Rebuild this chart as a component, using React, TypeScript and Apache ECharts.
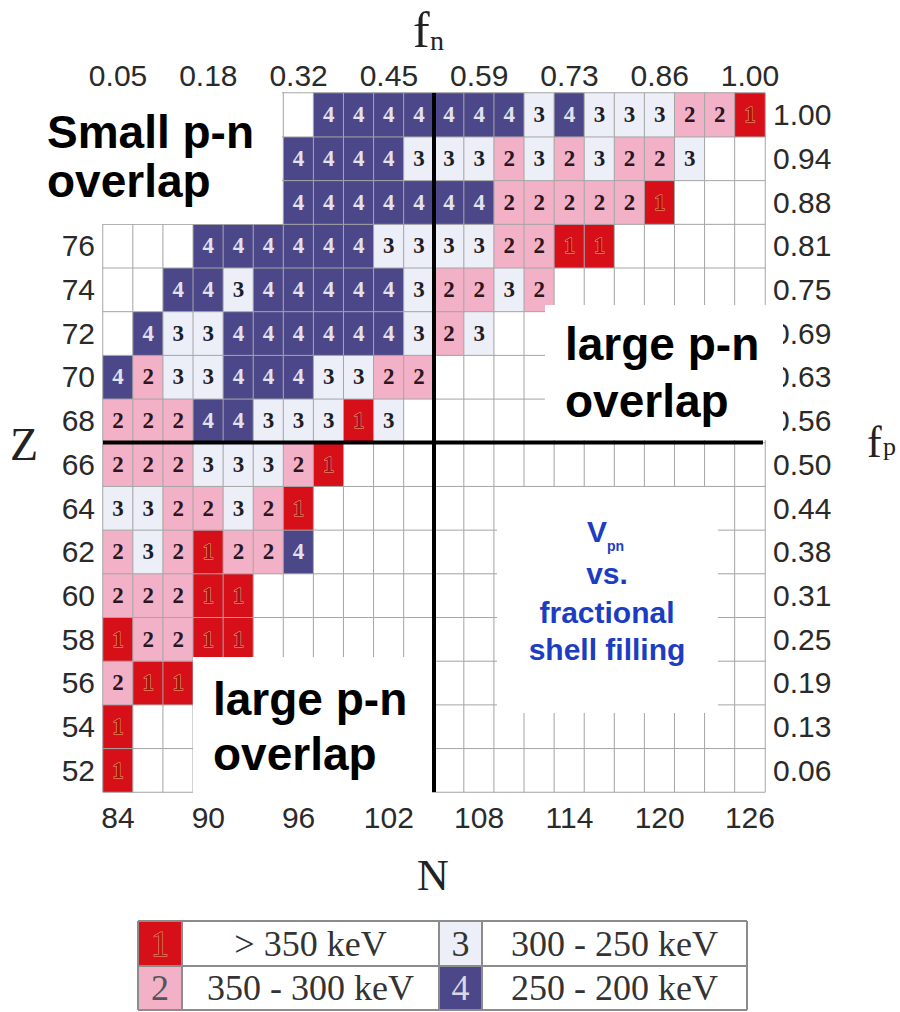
import React, { useEffect, useRef } from 'react';
import * as echarts from 'echarts';

const nCategories = ['84','86','88','90','92','94','96','98','100','102','104','106','108','110','112','114','116','118','120','122','124','126'];
const zCategories = ['52','54','56','58','60','62','64','66','68','70','72','74','76','78','80','82'];
// Z labels of the top three rows are hidden under the "Small p-n overlap" box in the reference
const zTickLabels = ['52','54','56','58','60','62','64','66','68','70','72','74','76','','',''];
const fnTickLabels = ['0.05','0.18','0.32','0.45','0.59','0.73','0.86','1.00'];
const fpTickLabels = ['0.06','0.13','0.19','0.25','0.31','0.38','0.44','0.50','0.56','0.63','0.69','0.75','0.81','0.88','0.94','1.00'];

// V_pn class per cell, columns N = 84..126 ; 0 = empty cell
const z82 = [0,0,0,0,0,0,0,4,4,4,4,4,4,4,3,4,3,3,3,2,2,1];
const z80 = [0,0,0,0,0,0,4,4,4,4,3,3,3,2,3,2,3,2,2,3,0,0];
const z78 = [0,0,0,0,0,0,4,4,4,4,4,4,4,2,2,2,2,2,1,0,0,0];
const z76 = [0,0,0,4,4,4,4,4,4,3,3,3,3,2,2,1,1,0,0,0,0,0];
const z74 = [0,0,4,4,3,4,4,4,4,4,3,2,2,3,2,0,0,0,0,0,0,0];
const z72 = [0,4,3,3,4,4,4,4,4,4,3,2,3,0,0,0,0,0,0,0,0,0];
const z70 = [4,2,3,3,4,4,4,3,3,2,2,0,0,0,0,0,0,0,0,0,0,0];
const z68 = [2,2,2,4,4,3,3,3,1,3,0,0,0,0,0,0,0,0,0,0,0,0];
const z66 = [2,2,2,3,3,3,2,1,0,0,0,0,0,0,0,0,0,0,0,0,0,0];
const z64 = [3,3,2,2,3,2,1,0,0,0,0,0,0,0,0,0,0,0,0,0,0,0];
const z62 = [2,3,2,1,2,2,4,0,0,0,0,0,0,0,0,0,0,0,0,0,0,0];
const z60 = [2,2,2,1,1,0,0,0,0,0,0,0,0,0,0,0,0,0,0,0,0,0];
const z58 = [1,2,2,1,1,0,0,0,0,0,0,0,0,0,0,0,0,0,0,0,0,0];
const z56 = [2,1,1,0,0,0,0,0,0,0,0,0,0,0,0,0,0,0,0,0,0,0];
const z54 = [1,0,0,0,0,0,0,0,0,0,0,0,0,0,0,0,0,0,0,0,0,0];
const z52 = [1,0,0,0,0,0,0,0,0,0,0,0,0,0,0,0,0,0,0,0,0,0];
const classRows = [z52, z54, z56, z58, z60, z62, z64, z66, z68, z70, z72, z74, z76, z78, z80, z82];

const legendCodes = [1, 2, 3, 4];
const legendTexts = ['> 350 keV', '350 - 300 keV', '300 - 250 keV', '250 - 200 keV'];

const nShellMid = ['104', '106'];
const zShellMid = ['66', '68'];

const classColors: Record<number, string> = { 0: '#ffffff', 1: '#d70f18', 2: '#f2b1c6', 3: '#eceef8', 4: '#4b4788' };
const classLabel: Record<number, any> = {
  0: { show: false },
  1: { color: '#b30c16', textBorderColor: '#eab07a', textBorderWidth: 1 },
  2: { color: '#2a1520' },
  3: { color: '#1d1d28' },
  4: { color: '#e2e2ee' },
};

const SANS = "'Liberation Sans', Arial, sans-serif";
const SERIF = "'Liberation Serif', 'Times New Roman', serif";

function txt(text: string, x: number, y: number, font: string, fill: string, align = 'left', extra: any = {}) {
  return {
    type: 'text', x, y, z: 120,
    style: { text, font, fill, align, textAlign: align, verticalAlign: 'middle', textVerticalAlign: 'middle', ...extra },
  };
}

export default function App() {
  const ref = useRef<HTMLDivElement>(null);
  useEffect(() => {
    document.body.style.margin = '0';
    const chart = echarts.init(ref.current!, null, { renderer: 'svg' });
    const data: any[] = [];
    classRows.forEach((row, yi) => row.forEach((v, xi) => {
      data.push({ value: [xi, yi, v], label: classLabel[v] });
    }));
    const axisLabelBase = { fontFamily: SANS, fontSize: 30, color: '#2a2a2a' };
    chart.setOption({
      animation: false,
      backgroundColor: '#ffffff',
      grid: { left: 103, top: 93, right: 135, bottom: 220 },
      xAxis: [
        { type: 'category', data: nCategories, position: 'bottom', axisLine: { show: false }, axisTick: { show: false }, splitLine: { show: false },
          axisLabel: { ...axisLabelBase, interval: 2, margin: 10 } },
        { type: 'category', data: nCategories, position: 'top', axisLine: { show: false }, axisTick: { show: false }, splitLine: { show: false },
          axisLabel: { ...axisLabelBase, interval: 2, margin: 3, formatter: (_v: string, i: number) => fnTickLabels[i / 3] } },
      ],
      yAxis: [
        { type: 'category', data: zCategories, position: 'left', axisLine: { show: false }, axisTick: { show: false }, splitLine: { show: false },
          axisLabel: { ...axisLabelBase, interval: 0, margin: 8, formatter: (_v: string, i: number) => zTickLabels[i] } },
        { type: 'category', data: zCategories, position: 'right', axisLine: { show: false }, axisTick: { show: false }, splitLine: { show: false },
          axisLabel: { ...axisLabelBase, interval: 0, margin: 8, formatter: (_v: string, i: number) => fpTickLabels[i] } },
      ],
      visualMap: {
        type: 'piecewise', show: false, dimension: 2, seriesIndex: 0,
        pieces: [0, 1, 2, 3, 4].map((v) => ({ value: v, color: classColors[v] })),
      },
      series: [{
        type: 'heatmap', data, xAxisIndex: 0, yAxisIndex: 0,
        label: { show: true, fontFamily: SERIF, fontSize: 23, fontWeight: 'bold',
          formatter: (p: any) => (p.value[2] ? String(p.value[2]) : '') },
        itemStyle: { borderColor: '#a6a6a6', borderWidth: 1 },
        emphasis: { disabled: true },
      }],
    });

    const px = (c: string) => chart.convertToPixel({ xAxisIndex: 0 }, c) as number;
    const py = (c: string) => chart.convertToPixel({ yAxisIndex: 0 }, c) as number;
    const colW = px(nCategories[1]) - px(nCategories[0]);
    const rowH = py(zCategories[0]) - py(zCategories[1]);
    const gL = px(nCategories[0]) - colW / 2;
    const gR = px(nCategories[nCategories.length - 1]) + colW / 2;
    const gT = py(zCategories[zCategories.length - 1]) - rowH / 2;
    const gB = py(zCategories[0]) + rowH / 2;
    const midX = (px(nShellMid[0]) + px(nShellMid[1])) / 2;
    const midY = (py(zShellMid[0]) + py(zShellMid[1])) / 2;

    const white = (x: number, y: number, w: number, h: number) => ({ type: 'rect', z: 100, shape: { x, y, width: w, height: h }, style: { fill: '#ffffff' } });
    const BOLD = `bold 46px ${SANS}`;
    const BLUE = '#1c3dc2';
    const BFONT = `bold 30px ${SANS}`;

    // legend
    const lgL = 138, lgS1 = 182, lgM = 439, lgS2 = 482, lgR = 747;
    const lgT = 921, lgMid = 966, lgB = 1010;
    const legendEls: any[] = [];
    const numColor: Record<number, any> = {
      1: { fill: '#c8101a', stroke: '#eaa878', lineWidth: 1 },
      2: { fill: '#555555' }, 3: { fill: '#333333' }, 4: { fill: '#d8d8e4' },
    };
    legendCodes.forEach((code, k) => {
      const col = Math.floor(k / 2), row = k % 2;
      const sx = col === 0 ? lgL : lgM, sw = col === 0 ? lgS1 - lgL : lgS2 - lgM;
      const tx0 = col === 0 ? lgS1 : lgS2, tx1 = col === 0 ? lgM : lgR;
      const y0 = row === 0 ? lgT : lgMid, y1 = row === 0 ? lgMid : lgB;
      legendEls.push({ type: 'rect', z: 110, shape: { x: sx, y: y0, width: sw, height: y1 - y0 }, style: { fill: classColors[code] } });
      legendEls.push({ type: 'text', z: 115, x: sx + sw / 2, y: (y0 + y1) / 2,
        style: { text: String(code), font: `36px ${SERIF}`, align: 'center', textAlign: 'center', verticalAlign: 'middle', textVerticalAlign: 'middle', ...numColor[code] } });
      legendEls.push(txt(legendTexts[k], (tx0 + tx1) / 2, (y0 + y1) / 2, `36px ${SERIF}`, '#333333', 'center'));
    });
    const lgLine = (x1: number, y1: number, x2: number, y2: number) => ({ type: 'line', z: 118, shape: { x1, y1, x2, y2 }, style: { stroke: '#8c8c8c', lineWidth: 2 } });
    legendEls.push(lgLine(lgL, lgT, lgR, lgT), lgLine(lgL, lgMid, lgR, lgMid), lgLine(lgL, lgB, lgR, lgB));
    [lgL, lgS1, lgM, lgS2, lgR].forEach((x) => legendEls.push(lgLine(x, lgT, x, lgB)));

    chart.setOption({
      graphic: [
        white(0, 92, 282, 132),
        white(545, 305, 238, 135),
        white(193, 657, 239, 140),
        white(497, 487, 221, 226),
        { type: 'line', z: 105, shape: { x1: midX, y1: gT, x2: midX, y2: gB }, style: { stroke: '#000000', lineWidth: 4 } },
        { type: 'line', z: 105, shape: { x1: gL, y1: midY, x2: gR - 2, y2: midY }, style: { stroke: '#000000', lineWidth: 4 } },
        txt('Small p-n', 47, 132, BOLD, '#000000'),
        txt('overlap', 47, 181, BOLD, '#000000'),
        txt('large p-n', 565, 344, BOLD, '#000000'),
        txt('overlap', 565, 401, BOLD, '#000000'),
        txt('large p-n', 213, 699, BOLD, '#000000'),
        txt('overlap', 213, 754, BOLD, '#000000'),
        txt('V', 587, 531, BFONT, BLUE),
        txt('pn', 607, 546, `bold 14px ${SANS}`, BLUE),
        txt('vs.', 607, 573, BFONT, BLUE, 'center'),
        txt('fractional', 607, 612, BFONT, BLUE, 'center'),
        txt('shell filling', 607, 649, BFONT, BLUE, 'center'),
        txt('f', 413, 30, `50px ${SERIF}`, '#222222'),
        txt('n', 430, 40, `28px ${SERIF}`, '#222222'),
        txt('Z', 10, 444, `46px ${SERIF}`, '#222222'),
        txt('f', 867, 442, `44px ${SERIF}`, '#222222'),
        txt('p', 883, 446, `26px ${SERIF}`, '#222222'),
        txt('N', 433, 875, `44px ${SERIF}`, '#222222', 'center'),
        ...legendEls,
      ],
    });
    return () => chart.dispose();
  }, []);
  return <div ref={ref} style={{ width: 900, height: 1012 }} />;
}
